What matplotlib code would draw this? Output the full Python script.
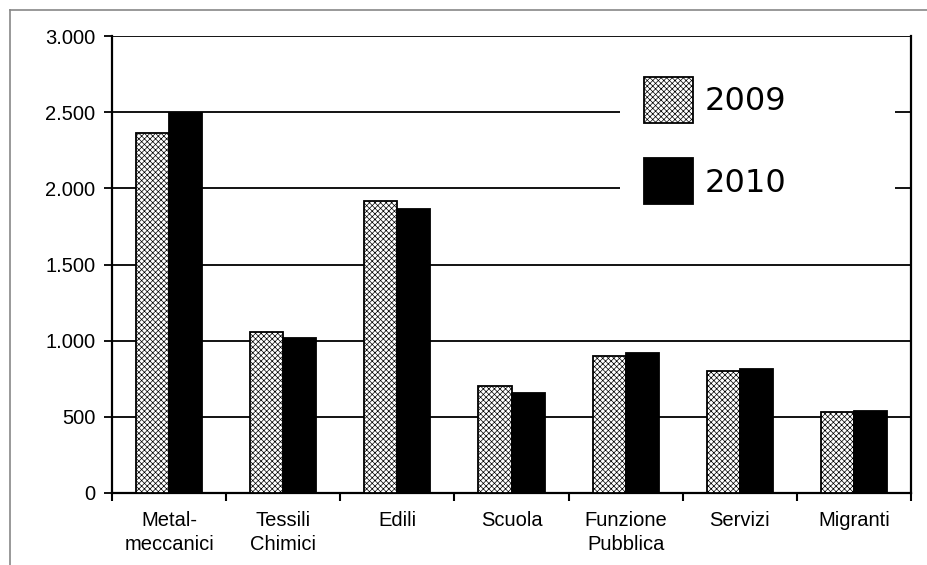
import numpy as np
import matplotlib
matplotlib.use("Agg")
import matplotlib.pyplot as plt
from matplotlib.ticker import FuncFormatter, FixedLocator
from matplotlib.patches import Patch, Rectangle

# -------------------
# Data
# -------------------
categories = ["Metal-\nmeccanici", "Tessili\nChimici", "Edili", "Scuola",
              "Funzione\nPubblica", "Servizi", "Migranti"]
values_2009 = [2360, 1055, 1920, 702, 900, 802, 533]
values_2010 = [2495, 1018, 1862, 655, 918, 815, 540]
yticks = [0, 500, 1000, 1500, 2000, 2500, 3000]

plt.rcParams["font.family"] = ["Liberation Sans", "DejaVu Sans"]
plt.rcParams["hatch.color"] = "#8a8a8a"
plt.rcParams["hatch.linewidth"] = 0.5

W, H = 927, 565
fig = plt.figure(figsize=(W / 100, H / 100), dpi=100)
ax = fig.add_axes([112 / W, 1 - 493 / H, (911 - 112) / W, (493 - 36) / H])

x = np.arange(len(categories))
w = 0.29
ax.bar(x - w / 2, values_2009, w, facecolor="white", edgecolor="black",
       hatch="xxxxxx", linewidth=1.3, zorder=3)
ax.bar(x + w / 2, values_2010, w, facecolor="black", edgecolor="black",
       linewidth=1.3, zorder=3)

ax.set_xlim(-0.5, len(categories) - 0.5)
ax.set_ylim(0, 3000)
ax.set_yticks(yticks)
ax.yaxis.set_major_formatter(FuncFormatter(lambda v, p: f"{int(v):,}".replace(",", ".")))
ax.yaxis.grid(True, color="black", linewidth=1.3, zorder=0)
ax.set_axisbelow(True)

ax.set_xticks(x)
ax.set_xticklabels(categories, linespacing=1.35)
ax.xaxis.set_minor_locator(FixedLocator(np.arange(-0.5, len(categories), 1.0)))
ax.tick_params(axis="x", which="major", length=0, pad=13, labelsize=14.5)
ax.tick_params(axis="x", which="minor", length=6, width=1.5, direction="out")
ax.tick_params(axis="y", length=6, width=1.3, pad=6, labelsize=14.5)

ax.spines["top"].set_visible(False)
for s in ["left", "right", "bottom"]:
    ax.spines[s].set_linewidth(1.6)

# white legend area hiding the gridlines
fig.add_artist(Rectangle((620 / W, 1 - 218 / H), (895 - 620) / W, (218 - 58) / H,
                         transform=fig.transFigure, facecolor="white",
                         edgecolor="none", zorder=4))

handles = [Patch(facecolor="white", edgecolor="black", hatch="xxxxxx", linewidth=1.3),
           Patch(facecolor="black", edgecolor="black", linewidth=1.3)]
leg = fig.legend(handles, ["2009", "2010"], loc="upper left",
                 bbox_to_anchor=(618 / W, 1 - 51 / H),
                 prop={"family": "DejaVu Sans", "size": 23}, frameon=False,
                 handlelength=1.55, handleheight=1.84,
                 labelspacing=1.12, handletextpad=0.35, borderpad=0.3)
leg.set_zorder(5)

# figure frame (top and left visible)
fig.add_artist(plt.Line2D([10 / W, 1.0], [1 - 10 / H, 1 - 10 / H],
                          transform=fig.transFigure, color="#888888", lw=1.2))
fig.add_artist(plt.Line2D([10 / W, 10 / W], [0.0, 1 - 10 / H],
                          transform=fig.transFigure, color="#888888", lw=1.2))

fig.savefig("out.png", dpi=100)
